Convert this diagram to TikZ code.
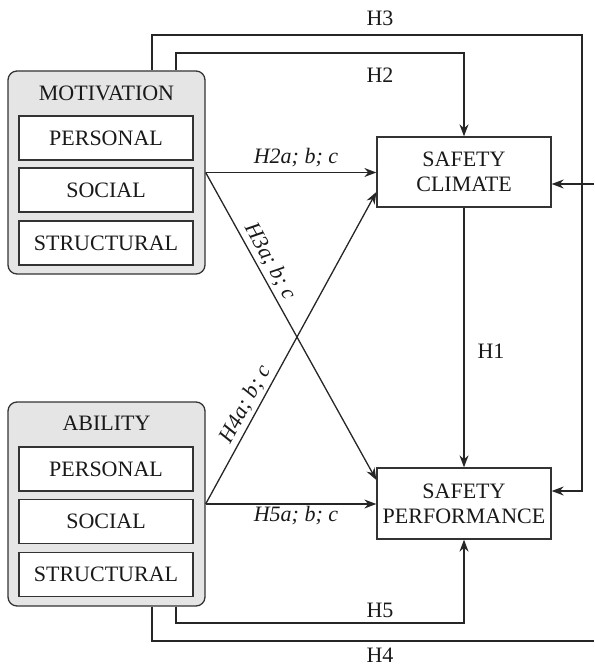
\documentclass[tikz,border=0pt]{standalone}
\usepackage{fontspec}
\setmainfont{Liberation Serif}
\usetikzlibrary{arrows.meta,calc}
\begin{document}
\begin{tikzpicture}[x=1pt,y=-1pt,
  every node/.style={font=\fontsize{22}{25}\selectfont, text=black!90},
  outer/.style={draw=black!80, line width=1.3pt, fill=black!10, rounded corners=9pt, inner sep=0pt},
  inner/.style={draw=black!80, line width=1.3pt, fill=white, minimum width=174pt, minimum height=44pt, inner sep=0pt},
  target/.style={draw=black!80, line width=1.3pt, fill=white, minimum width=174pt, minimum height=70pt, inner sep=0pt, align=center},
  conn/.style={draw=black!85, line width=1.3pt},
  arr/.style={conn, -{Stealth[length=12pt,width=9pt]}},
  hlab/.style={inner sep=1pt},
  ilab/.style={inner sep=3pt, font=\fontsize{22}{25}\selectfont\itshape}]
\useasboundingbox (0,0) rectangle (594,668);

% Motivation group
\node[outer, minimum width=197pt, minimum height=203pt] (mot) at (106.5,172.5) {};
\node (motT) at (106.5,93) {MOTIVATION};
\node[inner] (motP) at (106,138) {PERSONAL};
\node[inner] (motS) at (106,190) {SOCIAL};
\node[inner] (motR) at (106,243) {STRUCTURAL};

% Ability group
\node[outer, minimum width=197pt, minimum height=204pt] (ab) at (106.5,504) {};
\node (abT) at (106.5,423) {ABILITY};
\node[inner] (abP) at (106,469) {PERSONAL};
\node[inner] (abS) at (106,521.5) {SOCIAL};
\node[inner] (abR) at (106,574.5) {STRUCTURAL};

% Targets
\node[target] (sc) at (464,172) {SAFETY\\CLIMATE};
\node[target, minimum height=71pt] (sp) at (464,503.5) {SAFETY\\PERFORMANCE};

% bend coordinates
\coordinate (h3b) at (582,35);
\coordinate (h3c) at (582,491);
\coordinate (h2a) at (464,53);
\coordinate (rin) at (594,184);
\coordinate (h5a) at (464,623);
\coordinate (h4a) at (594,641);

% H3 loop
\draw[arr] ([xshift=45.5pt]mot.north) |- (h3b) -- (h3c) -- ([yshift=12.5pt]sp.east);
% H2 loop
\draw[arr] ([xshift=69.5pt]mot.north) |- (h2a) -- (sc.north);
% incoming from right
\draw[arr] (rin) -- ([yshift=-12pt]sc.east);
% H1
\draw[arr] (sc.south) -- (sp.north);
% H2a
\draw[arr] (mot.east) -- (mot.east -| sc.west);
% H3a
\draw[arr] (mot.east) -- node[ilab, sloped, above, pos=0.31] {H3a; b; c} ([yshift=23.5pt]sp.west);
% H5a
\draw[arr] (ab.east) -- (ab.east -| sp.west);
% H4a
\draw[arr] (ab.east) -- node[ilab, sloped, above, pos=0.30] {H4a; b; c} ([yshift=-20pt]sc.west);
% H5 loop
\draw[arr] ([xshift=69.5pt]ab.south) |- (h5a) -- (sp.south);
% H4 loop
\draw[conn] ([xshift=45.5pt]ab.south) |- (h4a);

% labels
\node[hlab] (lH3) at (380,18) {H3};
\node[hlab] (lH2) at (380,75) {H2};
\node[hlab] (lH1) at (491,351) {H1};
\node[hlab] (lH5) at (380,610) {H5};
\node[hlab] (lH4) at (380,655) {H4};
\node[ilab] (lH2a) at (296,158) {H2a; b; c};
\node[ilab] (lH5a) at (296,516) {H5a; b; c};
\end{tikzpicture}
\end{document}
